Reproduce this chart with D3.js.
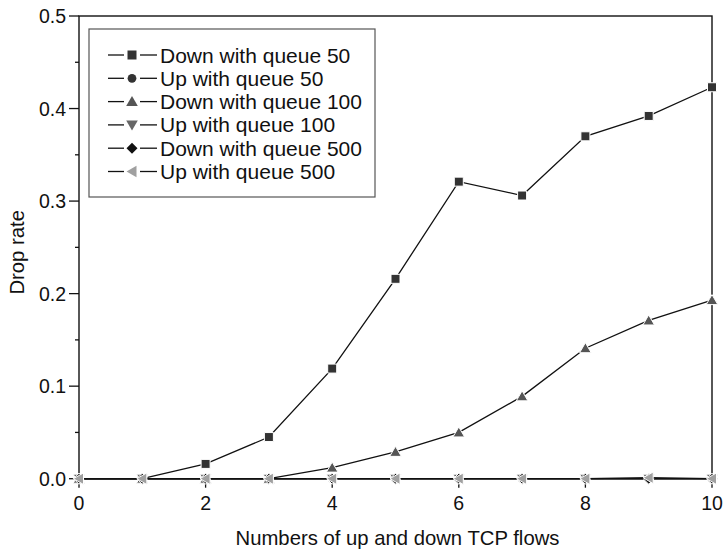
<!DOCTYPE html>
<html>
<head>
<meta charset="utf-8">
<script src="https://cdn.jsdelivr.net/npm/d3@7"></script>
<style>
  html, body { margin: 0; padding: 0; background: #fff; }
  svg text { font-family: "Liberation Sans", Arial, Helvetica, sans-serif; fill: #111; }
</style>
</head>
<body>
<svg id="chart" width="727" height="552"></svg>
<script>
// Number of up and down TCP flows
const flows = [0, 1, 2, 3, 4, 5, 6, 7, 8, 9, 10];

// Drop rate per series
const down50  = [0, 0, 0.016, 0.045, 0.119, 0.216, 0.321, 0.306, 0.370, 0.392, 0.423];
const up50    = [0, 0, 0, 0, 0, 0, 0, 0, 0, 0, 0];
const down100 = [0, 0, 0, 0, 0.012, 0.029, 0.050, 0.089, 0.141, 0.171, 0.193];
const up100   = [0, 0, 0, 0, 0, 0, 0, 0, 0, 0, 0];
const down500 = [0, 0, 0, 0, 0, 0, 0, 0, 0, 0, 0];
const up500   = [0, 0, 0, 0, 0, 0, 0, 0, 0, 0.001, 0];

const seriesNames = ["Down with queue 50", "Up with queue 50", "Down with queue 100",
                     "Up with queue 100", "Down with queue 500", "Up with queue 500"];
const seriesValues = [down50, up50, down100, up100, down500, up500];
const seriesSymbols = ["square", "circle", "triUp", "triDown", "diamond", "triLeft"];
const seriesColors = ["#333333", "#333333", "#555555", "#666666", "#111111", "#a0a0a0"];

const xTicks = [0, 2, 4, 6, 8, 10];
const yTicks = [0.0, 0.1, 0.2, 0.3, 0.4, 0.5];

const margin = { left: 79, right: 15, top: 16, bottom: 73.3 };
const W = 727, H = 552;

const svg = d3.select("#chart");
const x = d3.scaleLinear().domain([0, 10]).range([margin.left, W - margin.right]);
const y = d3.scaleLinear().domain([0, 0.5]).range([H - margin.bottom, margin.top]);

const FS_TICK = 19.5, FS_TITLE = 20.3, FS_LEGEND = 21;

// symbol paths centred at origin
function symbolPath(kind) {
  switch (kind) {
    case "square":  return "M-4.5,-4.5H4.5V4.5H-4.5Z";
    case "circle":  return d3.symbol(d3.symbolCircle, 60)();
    case "triUp":   return "M0,-5.5L5.8,4.5H-5.8Z";
    case "triDown": return "M0,5.5L5.8,-4.5H-5.8Z";
    case "diamond": return "M0,-5.5L5.5,0L0,5.5L-5.5,0Z";
    case "triLeft": return "M-5.5,0L4.5,-5.8V5.8Z";
  }
}

// frame
svg.append("rect")
  .attr("x", x(0)).attr("y", y(0.5))
  .attr("width", x(10) - x(0)).attr("height", y(0) - y(0.5))
  .attr("fill", "none").attr("stroke", "#111").attr("stroke-width", 1.4);

// y axis
const yAxis = svg.append("g").attr("transform", `translate(${x(0)},0)`);
yAxis.selectAll("line.major").data(yTicks).join("line")
  .attr("x1", -10).attr("x2", 0).attr("y1", d => y(d)).attr("y2", d => y(d))
  .attr("stroke", "#111").attr("stroke-width", 1.3);
yAxis.selectAll("line.minor").data(d3.range(0.05, 0.5, 0.1)).join("line")
  .attr("x1", -4).attr("x2", 0).attr("y1", d => y(d)).attr("y2", d => y(d))
  .attr("stroke", "#111").attr("stroke-width", 1.3);
yAxis.selectAll("text").data(yTicks).join("text")
  .attr("x", -13).attr("y", d => y(d)).attr("dy", "0.36em")
  .attr("text-anchor", "end").attr("font-size", FS_TICK)
  .text(d => d3.format(".1f")(d));

// x axis
const xAxis = svg.append("g").attr("transform", `translate(0,${y(0)})`);
xAxis.selectAll("line.major").data(xTicks).join("line")
  .attr("x1", d => x(d)).attr("x2", d => x(d)).attr("y1", 0).attr("y2", 9)
  .attr("stroke", "#111").attr("stroke-width", 1.3);
xAxis.selectAll("line.minor").data([1, 3, 5, 7, 9]).join("line")
  .attr("x1", d => x(d)).attr("x2", d => x(d)).attr("y1", 0).attr("y2", 4)
  .attr("stroke", "#111").attr("stroke-width", 1.3);
xAxis.selectAll("text").data(xTicks).join("text")
  .attr("x", d => x(d)).attr("y", 31)
  .attr("text-anchor", "middle").attr("font-size", FS_TICK)
  .text(d => d);

// axis titles
svg.append("text")
  .attr("x", (x(0) + x(10)) / 2 + 2).attr("y", 545)
  .attr("text-anchor", "middle").attr("font-size", FS_TITLE)
  .text("Numbers of up and down TCP flows");
svg.append("text")
  .attr("transform", `translate(24,${(y(0) + y(0.5)) / 2 + 5}) rotate(-90)`)
  .attr("text-anchor", "middle").attr("font-size", FS_TITLE)
  .text("Drop rate");

// series lines and markers
const line = d3.line().x((d, i) => x(flows[i])).y(d => y(d));
const plot = svg.append("g");
seriesValues.forEach((vals, k) => {
  const g = plot.append("g");
  g.append("path").attr("d", line(vals))
    .attr("fill", "none").attr("stroke", "#111").attr("stroke-width", 1.3);
  g.selectAll("path.m").data(vals).join("path")
    .attr("class", "m")
    .attr("transform", (d, i) => `translate(${x(flows[i])},${y(d)})`)
    .attr("d", symbolPath(seriesSymbols[k]))
    .attr("fill", seriesColors[k]).attr("stroke", "#fff").attr("stroke-width", 1);
});

// legend
const lg = svg.append("g");
lg.append("rect")
  .attr("x", 89).attr("y", 29).attr("width", 286).attr("height", 168)
  .attr("fill", "#fff").attr("stroke", "#555").attr("stroke-width", 1.2);
seriesNames.forEach((name, k) => {
  const cy = 55 + k * 23.3;
  lg.append("line").attr("x1", 108).attr("x2", 124).attr("y1", cy).attr("y2", cy)
    .attr("stroke", "#111").attr("stroke-width", 1.3);
  lg.append("line").attr("x1", 140).attr("x2", 157).attr("y1", cy).attr("y2", cy)
    .attr("stroke", "#111").attr("stroke-width", 1.3);
  lg.append("path").attr("transform", `translate(132,${cy})`)
    .attr("d", symbolPath(seriesSymbols[k]))
    .attr("fill", seriesColors[k]);
  lg.append("text").attr("x", 160).attr("y", cy).attr("dy", "0.36em")
    .attr("font-size", FS_LEGEND).text(name);
});
</script>
</body>
</html>
